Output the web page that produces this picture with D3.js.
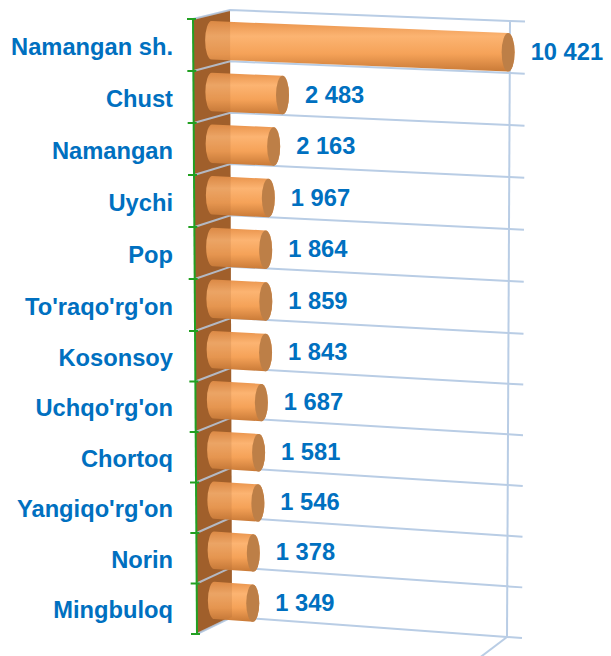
<!DOCTYPE html>
<html>
<head>
<meta charset="utf-8">
<script src="https://cdn.jsdelivr.net/npm/d3@7"></script>
<style>
  body { margin: 0; background: #fff; }
  svg { display: block; }
</style>
</head>
<body>
<svg width="611" height="656"></svg>
<script>
// chart data
var districts = ["Namangan sh.", "Chust", "Namangan", "Uychi", "Pop", "To'raqo'rg'on",
                 "Kosonsoy", "Uchqo'rg'on", "Chortoq", "Yangiqo'rg'on", "Norin", "Mingbuloq"];
var values = [10421, 2483, 2163, 1967, 1864, 1859, 1843, 1687, 1581, 1546, 1378, 1349];

var fmt = function(v) { return d3.format(",")(v).replace(/,/g, " "); };

var svg = d3.select("svg");
var n = districts.length;

// 3d box edges: category boundary -> screen position
var yFront = d3.scaleLinear().domain([0, n / 2, n]).range([19, 331, 634]);
var yBack = d3.scaleLinear().domain([0, n / 2, n]).range([10, 318, 617]);
var yRight = d3.scaleLinear().domain([0, n / 2, n]).range([21, 333, 637]);
var xFront = d3.scaleLinear().domain([0, n]).range([193, 197]);
var xBack = d3.scaleLinear().domain([0, n]).range([230, 232]);
var xRight = d3.scaleLinear().domain([0, n]).range([510, 507]);

// value -> bar length
var len = d3.scaleLinear().domain([0, d3.max(values)]).range([0, 296.5]);

var gridColor = "#b9cde5";
var wallColor = "#a0602b";
var blue = "#0070c0";
var labelFont = "bold 23.7px 'Liberation Sans', Arial, sans-serif";

// gradient for cylinder body
var defs = svg.append("defs");
var grad = defs.append("linearGradient")
    .attr("id", "cyl")
    .attr("x1", 0).attr("y1", 0).attr("x2", 0).attr("y2", 1);
[[0, "#e9934b"], [0.3, "#fcb472"], [0.65, "#f5a258"], [1, "#c97a37"]].forEach(function(s) {
  grad.append("stop").attr("offset", s[0]).attr("stop-color", s[1]);
});

// side wall (floor of the category axis)
var wallPts = [[xFront(0), yFront(0)], [xBack(0), yBack(0)], [xBack(n), yBack(n)], [xFront(n), yFront(n)]];
svg.append("polygon")
    .attr("points", wallPts.map(function(p) { return p.join(","); }).join(" "))
    .attr("fill", wallColor);

// category gridlines across wall and back wall
var bounds = d3.range(n + 1);
svg.selectAll(".grid")
  .data(bounds)
  .enter().append("polyline")
    .attr("class", "grid")
    .attr("fill", "none")
    .attr("stroke", gridColor)
    .attr("stroke-width", 2)
    .attr("points", function(i) {
      var slope = (yRight(i) - yBack(i)) / (xRight(i) - xBack(i));
      var xe = xRight(i) + 15;
      return [[xFront(i), yFront(i)], [xBack(i), yBack(i)], [xRight(i), yRight(i)],
              [xe, yRight(i) + slope * 15]].map(function(p) { return p.join(","); }).join(" ");
    });

// right edge of back wall and floor edge
svg.append("line")
    .attr("x1", xRight(0)).attr("y1", yRight(0))
    .attr("x2", xRight(n)).attr("y2", yRight(n))
    .attr("stroke", gridColor).attr("stroke-width", 2);
svg.append("line")
    .attr("x1", xRight(n)).attr("y1", yRight(n))
    .attr("x2", xRight(n) - 33).attr("y2", yRight(n) + 25)
    .attr("stroke", gridColor).attr("stroke-width", 2);

// bar geometry
var bars = districts.map(function(name, k) {
  var c = k + 0.5;
  var x0 = (xFront(c) + xBack(c)) / 2;
  var y0 = (yFront(c) + yBack(c)) / 2;
  var slope = (yRight(c) - yBack(c)) / (xRight(c) - xBack(c));
  var l = len(values[k]);
  return {
    name: name, value: values[k],
    x0: x0, y0: y0,
    x1: x0 + l, y1: y0 + l * slope,
    r: 0.37 * (yFront(k + 1) - yFront(k)),
    rx: 6.5,
    yl: yFront(c)
  };
});

var g = svg.append("g");
g.selectAll(".body")
  .data(bars)
  .enter().append("path")
    .attr("class", "body")
    .attr("fill", "url(#cyl)")
    .attr("d", function(d) {
      return "M" + d.x0 + "," + (d.y0 - d.r) +
             "L" + d.x1 + "," + (d.y1 - d.r) +
             "A" + d.rx + "," + d.r + " 0 0 1 " + d.x1 + "," + (d.y1 + d.r) +
             "L" + d.x0 + "," + (d.y0 + d.r) +
             "A" + d.rx + "," + d.r + " 0 0 1 " + d.x0 + "," + (d.y0 - d.r) + "Z";
    });

g.selectAll(".cap")
  .data(bars)
  .enter().append("ellipse")
    .attr("class", "cap")
    .attr("cx", function(d) { return d.x1; })
    .attr("cy", function(d) { return d.y1; })
    .attr("rx", function(d) { return d.rx; })
    .attr("ry", function(d) { return d.r; })
    .attr("fill", "#bd7f47");

// wall shows through the bars a little
svg.append("polygon")
    .attr("points", wallPts.map(function(p) { return p.join(","); }).join(" "))
    .attr("fill", wallColor)
    .attr("opacity", 0.18);

// green category axis with ticks
svg.append("line")
    .attr("x1", xFront(0)).attr("y1", yFront(0))
    .attr("x2", xFront(n)).attr("y2", yFront(n))
    .attr("stroke", "#22a022").attr("stroke-width", 2);
svg.selectAll(".tick")
  .data(bounds)
  .enter().append("line")
    .attr("class", "tick")
    .attr("x1", function(i) { return xFront(i) - 6; })
    .attr("x2", function(i) { return xFront(i) + 3; })
    .attr("y1", function(i) { return yFront(i); })
    .attr("y2", function(i) { return yFront(i); })
    .attr("stroke", "#22a022").attr("stroke-width", 2);

// category labels
svg.selectAll(".cat")
  .data(bars)
  .enter().append("text")
    .attr("class", "cat")
    .attr("x", 173)
    .attr("y", function(d) { return d.yl + 1; })
    .attr("dy", "0.36em")
    .attr("text-anchor", "end")
    .style("font", labelFont)
    .style("fill", blue)
    .text(function(d) { return d.name; });

// value labels
svg.selectAll(".val")
  .data(bars)
  .enter().append("text")
    .attr("class", "val")
    .attr("x", function(d) { return d.x1 + d.rx + 16; })
    .attr("y", function(d) { return d.y1 - 1; })
    .attr("dy", "0.36em")
    .style("font", labelFont)
    .style("fill", blue)
    .text(function(d) { return fmt(d.value); });
</script>
</body>
</html>
